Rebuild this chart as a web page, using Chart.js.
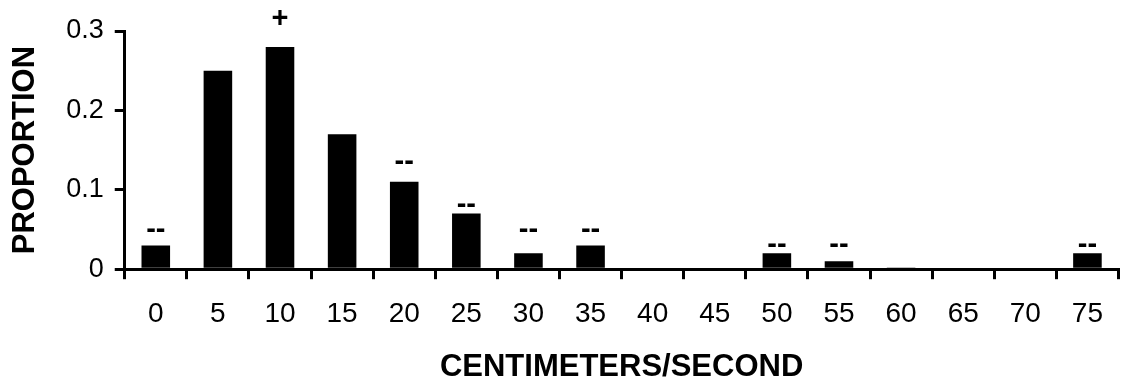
<!DOCTYPE html>
<html>
<head>
<meta charset="utf-8">
<script src="https://cdn.jsdelivr.net/npm/chart.js@4/dist/chart.umd.min.js"></script>
<style>
  html, body { margin: 0; padding: 0; background: #fff; }
  #wrap { width: 1121px; height: 387px; }
</style>
</head>
<body>
<div id="wrap"><canvas id="c" width="1121" height="387"></canvas></div>
<script>
const categories = ['0','5','10','15','20','25','30','35','40','45','50','55','60','65','70','75'];
const proportions = [0.03, 0.25, 0.28, 0.17, 0.11, 0.07, 0.02, 0.03, 0, 0, 0.02, 0.01, 0.002, 0, 0, 0.02];
const markers = ['--', '', '+', '', '--', '--', '--', '--', '', '', '--', '--', '', '', '', '--'];
const markerLevels = [0.049, null, 0.315, null, 0.135, 0.081, 0.05, 0.05, null, null, 0.031, 0.031, null, null, null, 0.031];
const yTicks = [0, 0.1, 0.2, 0.3];
const xTitle = 'CENTIMETERS/SECOND';
const yTitle = 'PROPORTION';

const FONT = '"Liberation Sans", Arial, Helvetica, sans-serif';

const markerPlugin = {
  id: 'markers',
  afterDatasetsDraw(chart) {
    const ctx = chart.ctx;
    const xs = chart.scales.x, ys = chart.scales.y;
    ctx.save();
    ctx.fillStyle = '#000';
    ctx.textAlign = 'center';
    ctx.textBaseline = 'middle';
    markers.forEach((m, i) => {
      if (!m || markerLevels[i] == null) return;
      ctx.font = 'bold 29px ' + FONT;
      ctx.fillText(m, xs.getPixelForValue(i), ys.getPixelForValue(markerLevels[i]));
    });
    ctx.restore();
  }
};

new Chart(document.getElementById('c'), {
  type: 'bar',
  data: {
    labels: categories,
    datasets: [{
      data: proportions,
      backgroundColor: '#000',
      borderWidth: 0,
      barPercentage: 0.46,
      categoryPercentage: 1.0
    }]
  },
  options: {
    responsive: false,
    animation: false,
    events: [],
    layout: { padding: { top: 31, right: 0, bottom: 1, left: 0 } },
    plugins: { legend: { display: false }, tooltip: { enabled: false } },
    scales: {
      x: {
        grid: { display: true, drawOnChartArea: false, drawTicks: true, tickLength: 10, lineWidth: 3, color: '#000', tickColor: '#000', offset: true },
        border: { display: true, width: 3, color: '#000' },
        ticks: { color: '#000', font: { family: FONT, size: 28 }, padding: 18, maxRotation: 0, autoSkip: false },
        title: { display: true, text: xTitle, color: '#000', font: { family: FONT, size: 31, weight: 'bold' }, padding: { top: 0, bottom: 0 } }
      },
      y: {
        min: 0, max: 0.3,
        afterBuildTicks(scale) { scale.ticks = yTicks.map(v => ({ value: v })); },
        grid: { display: true, drawOnChartArea: false, drawTicks: true, tickLength: 10, lineWidth: 3, color: '#000', tickColor: '#000' },
        border: { display: true, width: 3, color: '#000' },
        ticks: { color: '#000', font: { family: FONT, size: 27 }, padding: 11,
          callback: (v) => String(Math.round(v * 10) / 10) },
        title: { display: true, text: yTitle, color: '#000', font: { family: FONT, size: 31, weight: 'bold' }, padding: { top: 7, bottom: 11 } }
      }
    }
  },
  plugins: [markerPlugin]
});
</script>
</body>
</html>
